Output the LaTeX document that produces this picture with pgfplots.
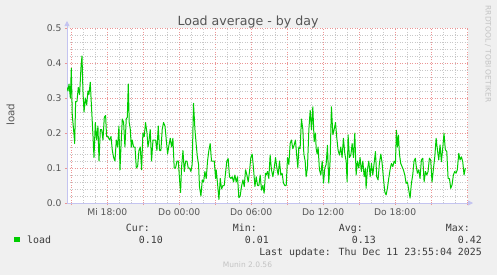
\documentclass[border=0pt]{standalone}
\usepackage{pgfplots}
\pgfplotsset{compat=1.18}
\usetikzlibrary{arrows.meta}
\usepackage{fontspec}
\setmainfont{DejaVu Sans}
\newfontfamily\monofont{DejaVu Sans Mono}
\definecolor{bgcol}{RGB}{240,240,240}
\definecolor{axiscol}{RGB}{196,196,240}
\definecolor{majgrid}{RGB}{236,150,150}
\definecolor{mingrid}{RGB}{200,200,200}
\definecolor{lgreen}{RGB}{0,204,0}
\definecolor{tickcol}{RGB}{85,85,85}
\definecolor{txtcol}{RGB}{60,60,60}
\definecolor{faint}{RGB}{195,195,195}
\begin{document}
\begin{tikzpicture}
\fill[bgcol] (0pt,0pt) rectangle (497pt,-275pt);
\begin{axis}[
  at={(67pt,-203pt)}, anchor=south west,
  scale only axis, width=401pt, height=175pt,
  xmin=14.64, xmax=48.08, ymin=0, ymax=0.5,
  axis lines=left,
  axis background/.style={fill=white},
  axis line style={draw=axiscol, line width=0.8pt},
  x axis line style={-{Triangle[length=5pt,width=5pt]}, shorten >=-5pt},
  y axis line style={-{Triangle[length=5pt,width=5pt]}, shorten >=-7pt},
  grid=both,
  major grid style={draw=majgrid, line width=0.6pt, dash pattern=on 1pt off 1.5pt},
  minor grid style={draw=mingrid, line width=0.6pt, dash pattern=on 1pt off 1.5pt},
  xtick={15,18,21,24,27,30,33,36,39,42,45,48},
  xticklabels={,Mi 18:00,,Do 00:00,,Do 06:00,,Do 12:00,,Do 18:00,,},
  minor x tick num=2,
  ytick={0,0.1,0.2,0.3,0.4,0.5},
  minor y tick num=4,
  yticklabel style={/pgf/number format/.cd, fixed, fixed zerofill, precision=1},
  /pgf/number format/assume math mode=true,
  tick label style={font=\fontsize{9.2}{10}\selectfont, text=tickcol},
  tick align=outside,
  major tick length=2pt, minor tick length=0pt,
  major tick style={draw=majgrid, solid, line width=0.6pt},
]
\addplot[draw=lgreen, line width=1pt, line join=round] coordinates {
(14.66,0.33) (14.72,0.32) (14.81,0.34) (14.92,0.30) (15.00,0.385) (15.08,0.25) (15.19,0.21) (15.28,0.17) (15.36,0.29) (15.47,0.29) (15.58,0.33) (15.69,0.31) (15.81,0.39) (15.89,0.42) (15.97,0.32) (16.06,0.26) (16.17,0.30) (16.28,0.28) (16.39,0.32) (16.47,0.31) (16.58,0.345) (16.69,0.27) (16.81,0.19) (16.89,0.13) (17.00,0.23) (17.11,0.18) (17.22,0.22) (17.31,0.12) (17.42,0.21) (17.53,0.21) (17.64,0.18) (17.75,0.245) (17.86,0.25) (17.94,0.19) (18.06,0.19) (18.19,0.18) (18.31,0.19) (18.42,0.15) (18.53,0.13) (18.64,0.12)
(18.75,0.18) (18.86,0.16) (18.97,0.22) (19.06,0.095) (19.14,0.16) (19.25,0.24) (19.36,0.23) (19.47,0.16) (19.58,0.24) (19.67,0.245) (19.75,0.34) (19.83,0.23) (19.92,0.21) (20.00,0.16) (20.08,0.18) (20.19,0.16) (20.31,0.16) (20.42,0.10) (20.53,0.105) (20.64,0.15) (20.75,0.16) (20.86,0.095) (20.97,0.20) (21.08,0.19) (21.19,0.23) (21.31,0.20) (21.39,0.16) (21.47,0.175) (21.58,0.21) (21.69,0.12) (21.81,0.18) (21.92,0.18) (22.03,0.18) (22.14,0.15) (22.25,0.22) (22.36,0.15) (22.47,0.15) (22.58,0.21) (22.69,0.23) (22.81,0.22)
(22.92,0.18) (23.03,0.14) (23.14,0.165) (23.25,0.185) (23.36,0.16) (23.47,0.185) (23.58,0.10) (23.69,0.10) (23.81,0.12) (23.92,0.12) (24.03,0.066) (24.11,0.03) (24.19,0.10) (24.31,0.15) (24.42,0.09) (24.53,0.12) (24.64,0.12) (24.75,0.10) (24.86,0.10) (24.97,0.09) (25.08,0.11) (25.19,0.285) (25.31,0.21) (25.42,0.165) (25.50,0.135) (25.61,0.11) (25.69,0.046) (25.81,0.02) (25.92,0.066) (26.03,0.06) (26.14,0.09) (26.25,0.07) (26.36,0.12) (26.47,0.15) (26.58,0.17) (26.69,0.12) (26.81,0.12) (26.92,0.12) (27.03,0.07)
(27.08,0.095) (27.19,0.057) (27.31,0.01) (27.42,0.07) (27.53,0.04) (27.64,0.05) (27.75,0.05) (27.86,0.085) (27.97,0.12) (28.08,0.127) (28.19,0.075) (28.31,0.07) (28.42,0.075) (28.53,0.06) (28.64,0.08) (28.75,0.06) (28.86,0.075) (28.97,0.015) (29.08,0.02) (29.19,0.047) (29.31,0.066) (29.42,0.047) (29.53,0.095) (29.64,0.08) (29.75,0.06) (29.86,0.09) (29.97,0.13) (30.08,0.14) (30.19,0.10) (30.31,0.047) (30.42,0.075) (30.53,0.05) (30.64,0.05) (30.75,0.08) (30.86,0.037) (30.97,0.05) (31.08,0.028) (31.19,0.085)
(31.25,0.08) (31.36,0.09) (31.47,0.07) (31.58,0.137) (31.69,0.095) (31.81,0.075) (31.92,0.10) (32.03,0.13) (32.14,0.10) (32.25,0.08) (32.36,0.12) (32.47,0.08) (32.58,0.085) (32.69,0.057) (32.81,0.05) (32.92,0.05) (33.03,0.13) (33.14,0.11) (33.25,0.17) (33.36,0.18) (33.47,0.155) (33.58,0.165) (33.69,0.18) (33.81,0.13) (33.89,0.10) (33.97,0.16) (34.08,0.155) (34.19,0.24) (34.31,0.21) (34.39,0.14) (34.50,0.12) (34.58,0.075) (34.69,0.10) (34.81,0.21) (34.92,0.265) (35.03,0.21) (35.14,0.275) (35.25,0.175) (35.36,0.20)
(35.42,0.155) (35.50,0.14) (35.58,0.16) (35.69,0.095) (35.81,0.08) (35.92,0.12) (36.03,0.057) (36.14,0.10) (36.25,0.11) (36.36,0.165) (36.47,0.057) (36.58,0.12) (36.69,0.275) (36.81,0.195) (36.92,0.21) (37.03,0.23) (37.14,0.185) (37.25,0.15) (37.36,0.137) (37.47,0.16) (37.58,0.13) (37.69,0.185) (37.81,0.14) (37.92,0.12) (38.00,0.06) (38.08,0.195) (38.19,0.13) (38.31,0.137) (38.42,0.17) (38.53,0.13) (38.64,0.20) (38.75,0.08) (38.86,0.12) (38.97,0.10) (39.08,0.13) (39.19,0.09) (39.31,0.12) (39.42,0.075) (39.53,0.10)
(39.58,0.042) (39.69,0.095) (39.81,0.12) (39.92,0.075) (40.03,0.113) (40.14,0.08) (40.25,0.113) (40.36,0.147) (40.47,0.075) (40.58,0.066) (40.69,0.113) (40.81,0.14) (40.92,0.113) (41.03,0.07) (41.14,0.032) (41.25,0.023) (41.36,0.042) (41.47,0.07) (41.58,0.095) (41.69,0.113) (41.81,0.104) (41.92,0.12) (42.03,0.113) (42.11,0.208) (42.19,0.16) (42.28,0.194) (42.36,0.14) (42.47,0.113) (42.58,0.104) (42.69,0.095) (42.81,0.08) (42.92,0.056) (43.03,0.06) (43.14,0.037) (43.25,0.014) (43.36,0.056) (43.47,0.08) (43.58,0.12) (43.69,0.128)
(43.75,0.108) (43.86,0.085) (43.97,0.095) (44.08,0.07) (44.19,0.123) (44.31,0.128) (44.42,0.06) (44.53,0.09) (44.64,0.08) (44.75,0.09) (44.86,0.128) (44.97,0.123) (45.08,0.06) (45.19,0.095) (45.31,0.132) (45.42,0.185) (45.53,0.152) (45.64,0.123) (45.75,0.166) (45.86,0.118) (45.97,0.156) (46.08,0.199) (46.19,0.152) (46.31,0.147) (46.42,0.07) (46.53,0.07) (46.64,0.042) (46.75,0.052) (46.86,0.08) (46.97,0.09) (47.08,0.085) (47.19,0.095) (47.31,0.142) (47.42,0.123) (47.53,0.132) (47.64,0.118) (47.75,0.08) (47.86,0.10)
};
\end{axis}
% title and side texts
\node[anchor=base, text=tickcol, font=\fontsize{12.6}{14}\selectfont, inner sep=0pt] at (248pt,-25.3pt) {Load average - by day};
\node[rotate=90, text=tickcol, font=\fontsize{10.3}{12}\selectfont, inner sep=0pt] at (10.5pt,-114.5pt) {load};
\node[rotate=-90, text=faint, font=\fontsize{7.5}{9}\selectfont, inner sep=0pt] at (488pt,-54pt) {RRDTOOL / TOBI OETIKER};
% legend
\fill[lgreen] (14pt,-236.8pt) rectangle (19.5pt,-242.3pt);
\begin{scope}[every node/.style={inner sep=0pt, text=txtcol, font=\monofont\fontsize{9.9}{11}\selectfont}]
\node[anchor=base west] at (27pt,-243pt) {load};
\node[anchor=base east] at (150pt,-231pt) {Cur:};
\node[anchor=base east] at (257pt,-231pt) {Min:};
\node[anchor=base east] at (363pt,-231pt) {Avg:};
\node[anchor=base east] at (470pt,-231pt) {Max:};
\node[anchor=base east] at (163pt,-243pt) {0.10};
\node[anchor=base east] at (269pt,-243pt) {0.01};
\node[anchor=base east] at (376pt,-243pt) {0.13};
\node[anchor=base east] at (482pt,-243pt) {0.42};
\node[anchor=base east] at (482pt,-255pt) {Last update: Thu Dec 11 23:55:04 2025};
\end{scope}
\node[anchor=base, inner sep=0pt, text=faint, font=\fontsize{7.5}{9}\selectfont] at (247.5pt,-267pt) {Munin 2.0.56};
\end{tikzpicture}
\end{document}
